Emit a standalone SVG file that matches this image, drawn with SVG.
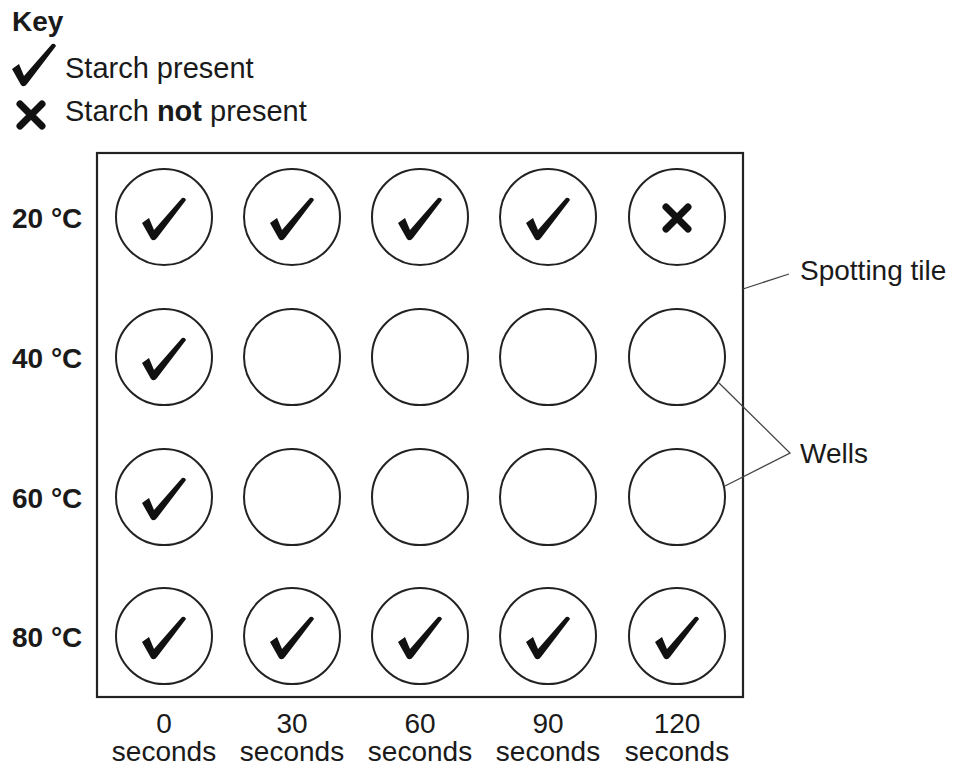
<svg xmlns="http://www.w3.org/2000/svg" width="956" height="767" viewBox="0 0 956 767">
<style>
text{font-family:"Liberation Sans",Arial,sans-serif;font-size:28px;fill:#1a1a1a}
.b{font-weight:bold}
.k{font-size:29px}
.row{font-weight:bold;font-size:28px}
.lbl{text-anchor:middle}
.well{fill:none;stroke:#222;stroke-width:2}
.tile{fill:#fff;stroke:#222;stroke-width:2.2}
.lead{fill:none;stroke:#444;stroke-width:1.3}
.cross{stroke:#111;stroke-width:7;stroke-linecap:round;fill:none}
</style>
<defs>
<path id="tick" d="M-22,5 L-15,0 L-10,12 L18,-20 Q21,-21 22,-18 L-7,20 Q-10,24 -13,21 Z" fill="#111"/>
<g id="x"><path class="cross" d="M-11,-11 L11,11 M11,-11 L-11,11"/></g>
</defs>
<rect width="956" height="767" fill="#fff"/>
<g id="key">
<text class="b" x="12" y="31">Key</text>
<use href="#tick" x="34" y="64"/>
<text class="k" x="65" y="78">Starch present</text>
<use href="#x" x="31" y="115"/>
<text class="k" x="65" y="121">Starch <tspan class="b">not</tspan> present</text>
</g>
<g id="tile"><rect class="tile" x="97" y="153" width="646" height="544"/></g>
<g id="row-labels">
<text class="row" x="12" y="228">20 °C</text>
<text class="row" x="12" y="368">40 °C</text>
<text class="row" x="12" y="508">60 °C</text>
<text class="row" x="12" y="647">80 °C</text>
</g>
<g id="wells">
<g id="w-20-0"><circle class="well" cx="164" cy="217" r="48"/><use href="#tick" x="164" y="218"/></g>
<g id="w-20-30"><circle class="well" cx="292" cy="217" r="48"/><use href="#tick" x="292" y="218"/></g>
<g id="w-20-60"><circle class="well" cx="420" cy="217" r="48"/><use href="#tick" x="420" y="218"/></g>
<g id="w-20-90"><circle class="well" cx="548" cy="217" r="48"/><use href="#tick" x="548" y="218"/></g>
<g id="w-20-120"><circle class="well" cx="677" cy="217" r="48"/><use href="#x" x="677" y="218"/></g>
<g id="w-40-0"><circle class="well" cx="164" cy="357" r="48"/><use href="#tick" x="164" y="358"/></g>
<g id="w-40-30"><circle class="well" cx="292" cy="357" r="48"/></g>
<g id="w-40-60"><circle class="well" cx="420" cy="357" r="48"/></g>
<g id="w-40-90"><circle class="well" cx="548" cy="357" r="48"/></g>
<g id="w-40-120"><circle class="well" cx="677" cy="357" r="48"/></g>
<g id="w-60-0"><circle class="well" cx="164" cy="497" r="48"/><use href="#tick" x="164" y="498"/></g>
<g id="w-60-30"><circle class="well" cx="292" cy="497" r="48"/></g>
<g id="w-60-60"><circle class="well" cx="420" cy="497" r="48"/></g>
<g id="w-60-90"><circle class="well" cx="548" cy="497" r="48"/></g>
<g id="w-60-120"><circle class="well" cx="677" cy="497" r="48"/></g>
<g id="w-80-0"><circle class="well" cx="164" cy="636" r="48"/><use href="#tick" x="164" y="637"/></g>
<g id="w-80-30"><circle class="well" cx="292" cy="636" r="48"/><use href="#tick" x="292" y="637"/></g>
<g id="w-80-60"><circle class="well" cx="420" cy="636" r="48"/><use href="#tick" x="420" y="637"/></g>
<g id="w-80-90"><circle class="well" cx="548" cy="636" r="48"/><use href="#tick" x="548" y="637"/></g>
<g id="w-80-120"><circle class="well" cx="677" cy="636" r="48"/><use href="#tick" x="677" y="637"/></g>
</g>
<g id="col-labels">
<text class="lbl" x="164" y="733">0</text><text class="lbl" x="164" y="761">seconds</text>
<text class="lbl" x="292" y="733">30</text><text class="lbl" x="292" y="761">seconds</text>
<text class="lbl" x="420" y="733">60</text><text class="lbl" x="420" y="761">seconds</text>
<text class="lbl" x="548" y="733">90</text><text class="lbl" x="548" y="761">seconds</text>
<text class="lbl" x="677" y="733">120</text><text class="lbl" x="677" y="761">seconds</text>
</g>
<g id="connectors">
<path class="lead" d="M743,289 L789,274"/>
<path class="lead" d="M719,383 L790,453 L725,486"/>
</g>
<g id="callouts">
<text x="800" y="280">Spotting tile</text>
<text x="800" y="463">Wells</text>
</g>
</svg>
